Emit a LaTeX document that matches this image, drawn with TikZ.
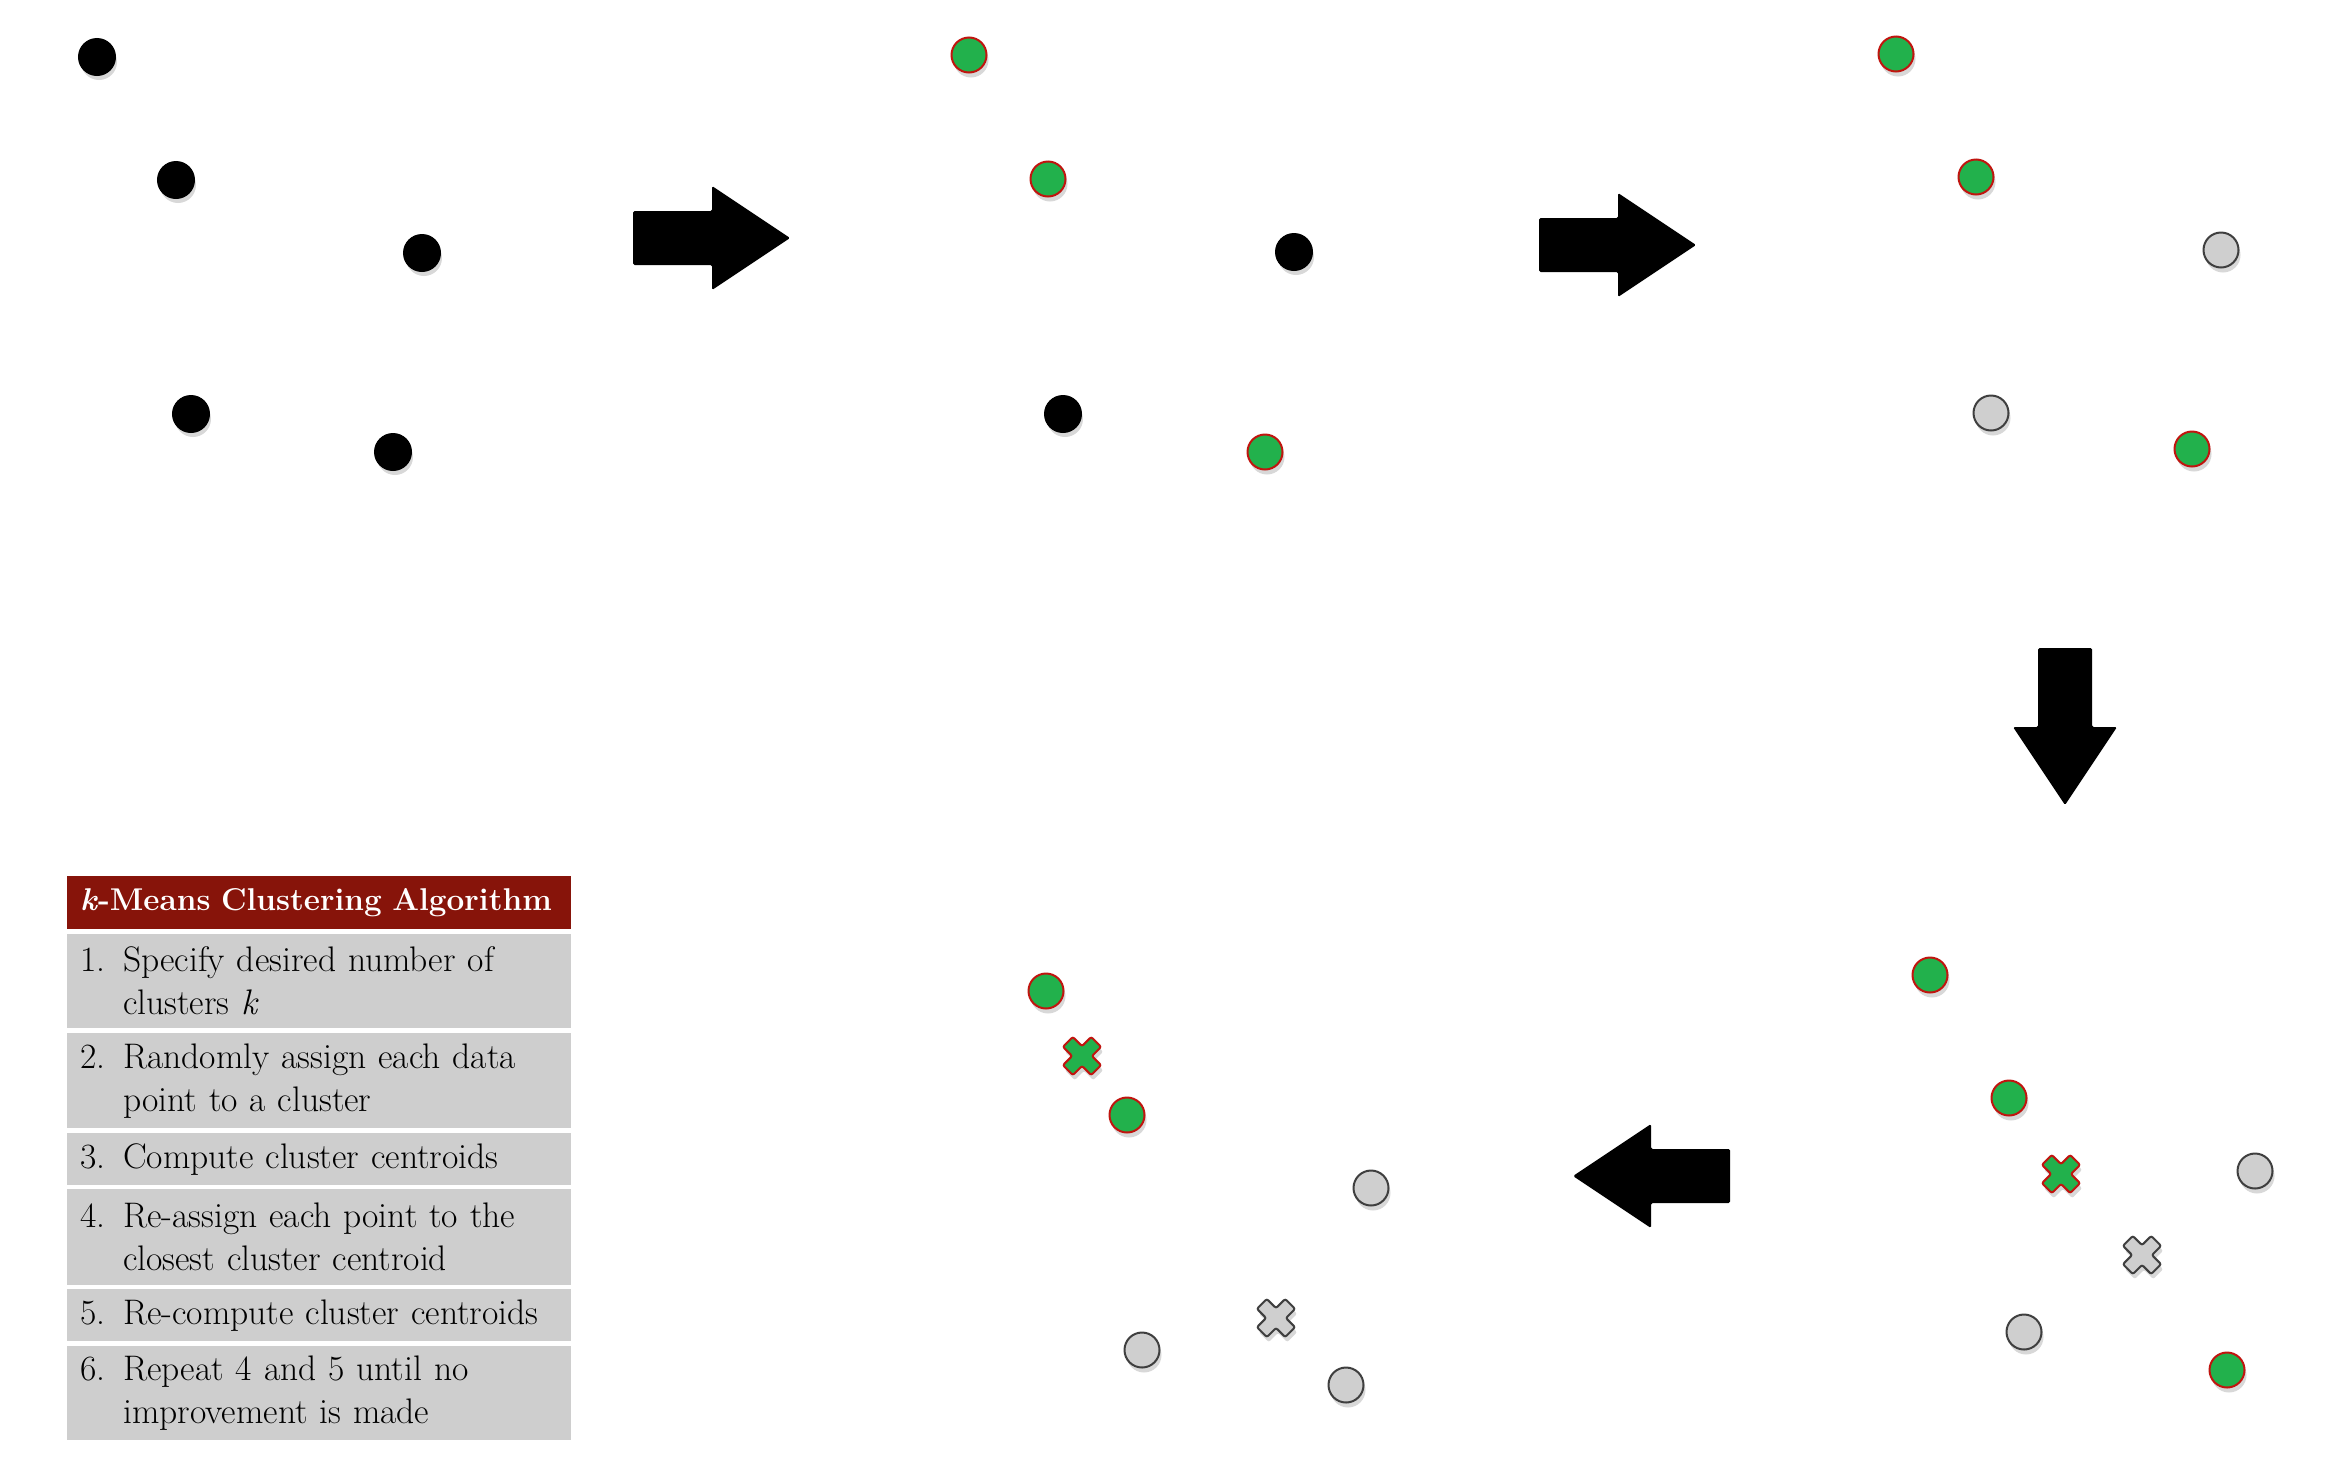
\documentclass[tikz,border=0pt]{standalone}
\usepackage{tikz}
\usetikzlibrary{shadows}
\definecolor{kmGreen}{HTML}{22B14C}
\definecolor{kmRim}{HTML}{C0150F}
\definecolor{kmGray}{HTML}{CFCFCF}
\definecolor{kmEdge}{HTML}{3F3F3F}
\definecolor{kmHead}{HTML}{87140A}
\definecolor{kmRow}{HTML}{CECECE}
\newcommand{\numbox}[1]{\makebox[43pt][l]{#1}}
\tikzset{
  softshadow/.style={drop shadow={shadow xshift=2pt, shadow yshift=-5pt, opacity=.3}},
  kmdot/.style={circle, minimum size=35pt, inner sep=0pt, line width=2pt, softshadow},
  rawpt/.style={kmdot, fill=black, draw=black, minimum size=36pt},
  grnpt/.style={kmdot, fill=kmGreen, draw=kmRim},
  grypt/.style={kmdot, fill=kmGray, draw=kmEdge},
  grnx/.style={fill=kmGreen, draw=kmRim},
  gryx/.style={fill=kmGray, draw=kmEdge},
  pics/centroid/.style={code={
    \path[#1, softshadow, rounded corners=2pt, line width=2pt, rotate=45]
      (7,20) -- (7,7) -- (20,7) -- (20,-7) -- (7,-7) -- (7,-20) -- (-7,-20)
      -- (-7,-7) -- (-20,-7) -- (-20,7) -- (-7,7) -- (-7,20) -- cycle;
  }},
  pics/bigarrow/.style={code={
    \fill[rounded corners=1.5pt] (-157,-27) -- (-78,-27) -- (-78,-52) -- (0,0)
      -- (-78,52) -- (-78,27) -- (-157,27) -- cycle;
  }},
  headbar/.style={anchor=north west, fill=kmHead, text=white, text width=478pt,
    inner xsep=13pt, inner ysep=0pt, minimum height=53pt, align=left,
    font=\fontsize{31.5}{36}\selectfont\bfseries},
  steprow/.style={anchor=north west, fill=kmRow, text width=478pt,
    inner xsep=13pt, inner ysep=0pt, align=left,
    font=\fontsize{35.5}{43}\selectfont}
}
\begin{document}
\begin{tikzpicture}[x=1pt, y=-1pt]
  \fill[white] (0,0) rectangle (2337,1465);
  \useasboundingbox (0,0) rectangle (2337,1465);

  % raw data
  \foreach \x/\y [count=\i] in {97/57, 176/180, 422/253, 191/414, 393/452}
    \node[rawpt] (a\i) at (\x,\y) {};

  % random assignment
  \foreach \x/\y [count=\i] in {969/55, 1048/179, 1265/452}
    \node[grnpt] (b\i) at (\x,\y) {};
  \foreach \x/\y [count=\i] in {1294/252, 1063/414}
    \node[rawpt] (bb\i) at (\x,\y) {};

  % two clusters
  \foreach \x/\y [count=\i] in {1896/54, 1976/177, 2192/449}
    \node[grnpt] (c\i) at (\x,\y) {};
  \foreach \x/\y [count=\i] in {2221/250, 1991/413}
    \node[grypt] (cc\i) at (\x,\y) {};

  % centroids
  \foreach \x/\y [count=\i] in {1930/975, 2009/1098, 2227/1370}
    \node[grnpt] (d\i) at (\x,\y) {};
  \foreach \x/\y [count=\i] in {2255/1171, 2024/1332}
    \node[grypt] (dd\i) at (\x,\y) {};
  \pic at (2061,1174) {centroid=grnx};
  \pic at (2142,1255) {centroid=gryx};

  % re-assigned
  \foreach \x/\y [count=\i] in {1046/991, 1127/1115}
    \node[grnpt] (e\i) at (\x,\y) {};
  \foreach \x/\y [count=\i] in {1371/1188, 1142/1350, 1346/1385}
    \node[grypt] (ee\i) at (\x,\y) {};
  \pic at (1082,1056) {centroid=grnx};
  \pic at (1276,1318) {centroid=gryx};

  % block arrows
  \pic at (790,238) {bigarrow};
  \pic at (1696,245) {bigarrow};
  \pic[rotate=-90] at (2065,805) {bigarrow};
  \pic[rotate=180] at (1573,1176) {bigarrow};

  % algorithm table
  \node[headbar] (title) at (67,876) {\textit{k}-Means Clustering Algorithm};
  \node[steprow, minimum height=94pt] (s1) at (67,934)
    {\numbox{1.}Specify desired number of\\\hspace*{43pt}clusters \textit{k}};
  \node[steprow, minimum height=95pt] (s2) at (67,1033)
    {\numbox{2.}Randomly assign each data\\\hspace*{43pt}point to a cluster};
  \node[steprow, minimum height=52pt] (s3) at (67,1133)
    {\numbox{3.}Compute cluster centroids};
  \node[steprow, minimum height=96pt] (s4) at (67,1189)
    {\numbox{4.}Re-assign each point to the\\\hspace*{43pt}closest cluster centroid};
  \node[steprow, minimum height=52pt] (s5) at (67,1289)
    {\numbox{5.}Re-compute cluster centroids};
  \node[steprow, minimum height=94pt] (s6) at (67,1346)
    {\numbox{6.}Repeat 4 and 5 until no\\\hspace*{43pt}improvement is made};
\end{tikzpicture}
\end{document}
